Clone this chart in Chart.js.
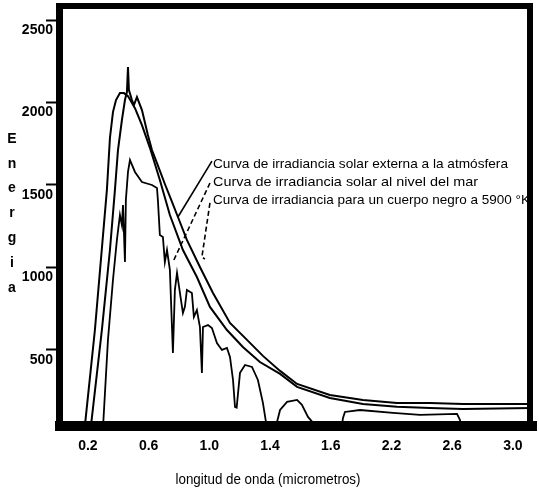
<!DOCTYPE html>
<html>
<head>
<meta charset="utf-8">
<script src="https://cdn.jsdelivr.net/npm/chart.js@4.4.1/dist/chart.umd.min.js"></script>
<style>
html,body{margin:0;padding:0;background:#fff;}
#wrap{width:539px;height:491px;}
</style>
</head>
<body>
<div id="wrap"><canvas id="c" width="539" height="491"></canvas></div>
<script>
// ---- tick labels (printed wavelength labels, evenly spaced on the axis) ----
const xTickLabels = ['0.2','0.6','1.0','1.4','1.6','2.2','2.6','3.0'];
const yTickValues = [500, 1000, 1500, 2000, 2500];

// ---- Curva de irradiancia solar externa a la atmósfera ----
const extWl  = [0.22,0.292,0.345,0.378,0.398,0.424,0.444,0.457,0.464,0.470,0.490,0.503,0.523,0.556,0.595,0.622,0.655,0.707,0.754,0.793,0.852,0.938,1.024,1.136,1.248,1.353,1.433,1.489,1.597,1.918,2.236,2.454,2.671,3.126];
const extVal = [40,621,1106,1470,1712,1894,2015,2064,2215,2076,2015,1985,2033,1954,1803,1712,1633,1506,1397,1306,1167,1003,845,664,561,464,373,294,227,197,179,179,173,173];

// ---- Curva de irradiancia para un cuerpo negro a 5900 K ----
const bbWl  = [0.18,0.246,0.325,0.345,0.365,0.385,0.411,0.437,0.464,0.510,0.556,0.609,0.674,0.740,0.826,0.918,1.004,1.116,1.221,1.333,1.433,1.489,1.597,1.918,2.236,2.454,2.671,3.126];
const bbVal = [40,621,1470,1785,1942,2015,2057,2057,2039,1966,1863,1724,1530,1318,1106,942,761,621,518,427,355,276,209,173,155,148,142,148];

// ---- Curva de irradiancia solar al nivel del mar ----
const slWl  = [0.30,0.332,0.365,0.391,0.411,0.424,0.431,0.444,0.450,0.464,0.477,0.510,0.556,0.622,0.655,0.661,0.674,0.694,0.707,0.721,0.740,0.760,0.773,0.787,0.813,0.826,0.839,0.852,0.885,0.898,0.918,0.938,0.951,0.958,0.991,1.017,1.050,1.083,1.116,1.136,1.156,1.169,1.180,1.202,1.235,1.281,1.320,1.353,1.373,1.386,1.410,1.423,1.433,1.456,1.489,1.505,1.525,1.548,1.560,1.700,1.721,1.740,1.889,2.210,2.388,2.632,2.651,2.671,3.126];
const slVal = [40,561,924,1167,1318,1257,1379,1033,1409,1579,1651,1579,1518,1500,1482,1409,1197,1185,1033,1106,985,482,864,967,803,724,761,864,845,700,742,639,361,639,651,633,542,500,512,458,318,155,150,361,409,397,318,179,64,0,0,64,136,185,197,167,94,45,0,0,88,124,136,118,106,112,76,0,0];

// ---- axis ranges ----
const xRangeWl = [0.016, 3.126];
const yRange = [45, 2573];

// printed label positions -> axis position (labels are equally spaced)
const tickWl = xTickLabels.map(parseFloat);
function toPos(w){
  const t = tickWl, n = t.length;
  if (w <= t[0]) return (w - t[0]) / (t[1] - t[0]);
  if (w >= t[n-1]) return (n-1) + (w - t[n-1]) / (t[n-1] - t[n-2]);
  for (let i = 0; i < n-1; i++) {
    if (w >= t[i] && w <= t[i+1]) return i + (w - t[i]) / (t[i+1] - t[i]);
  }
  return 0;
}
const toPts = (ws, vs) => ws.map((w,i) => ({x: toPos(w), y: vs[i]}));

const FONT = "'Liberation Sans Narrow','Liberation Sans',Arial,sans-serif";

// annotations (anchored in data units)
const notes = [
  {text:'Curva de irradiancia solar externa a la atmósfera', wl:1.024, val:1603, width:295},
  {text:'Curva de irradiancia solar al nivel del mar', wl:1.024, val:1494, width:265},
  {text:'Curva de irradiancia para un cuerpo negro a 5900 °K', wl:1.024, val:1385, width:317}
];
const leaders = [
  {pts:[[1.017,1645],[0.793,1306]], dash:[]},
  {pts:[[1.004,1512],[0.760,1033]], dash:[5,3]},
  {pts:[[1.004,1391],[0.951,1063],[0.971,1051]], dash:[5,3]}
];
const xTitle = 'longitud de onda (micrometros)';
const yTitle = 'Energia';

const decor = {
  id: 'decor',
  afterDatasetsDraw(chart){
    const {ctx, chartArea:a, scales:{x, y}} = chart;
    const px = w => x.getPixelForValue(toPos(w));
    const py = v => y.getPixelForValue(v);
    ctx.save();
    ctx.fillStyle = '#000';
    // thick frame
    ctx.fillRect(a.left-4, a.top-5, 7, a.bottom - a.top + 11);
    ctx.fillRect(a.left-4, a.top-5, a.right - a.left + 5, 6);
    ctx.fillRect(a.right-5, a.top-5, 6, a.bottom - a.top + 11);
    ctx.fillRect(a.left-5, a.bottom-4, a.right - a.left + 10, 10);
    // leaders
    ctx.strokeStyle = '#000';
    ctx.lineWidth = 1.6;
    leaders.forEach(l => {
      ctx.setLineDash(l.dash);
      ctx.beginPath();
      l.pts.forEach(([w,v],i) => i ? ctx.lineTo(px(w), py(v)) : ctx.moveTo(px(w), py(v)));
      ctx.stroke();
    });
    ctx.setLineDash([]);
    // note texts
    ctx.font = '13px ' + FONT;
    ctx.textBaseline = 'alphabetic';
    ctx.textAlign = 'left';
    notes.forEach(n => {
      const m = ctx.measureText(n.text).width;
      ctx.save();
      ctx.translate(px(n.wl), py(n.val));
      ctx.scale(n.width / m, 1);
      ctx.fillText(n.text, 0, 0);
      ctx.restore();
    });
    // x title
    ctx.font = '14px ' + FONT;
    ctx.textBaseline = 'middle';
    const tw = ctx.measureText(xTitle).width;
    ctx.save();
    ctx.translate(268, a.bottom + 55);
    ctx.scale(185 / tw, 1);
    ctx.textAlign = 'center';
    ctx.fillText(xTitle, 0, 0);
    ctx.restore();
    // stacked y title
    ctx.font = 'bold 14px ' + FONT;
    ctx.textAlign = 'center';
    [...yTitle].forEach((ch, i) => ctx.fillText(ch, 12, 139 + i * 24.8));
    ctx.restore();
  }
};

const lineStyle = {borderColor:'#000', borderWidth:2, pointRadius:0, tension:0, fill:false};

new Chart(document.getElementById('c'), {
  type: 'line',
  data: {
    datasets: [
      Object.assign({label:'Curva de irradiancia solar externa a la atmósfera', data: toPts(extWl, extVal)}, lineStyle),
      Object.assign({label:'Curva de irradiancia solar al nivel del mar', data: toPts(slWl, slVal)}, lineStyle, {borderWidth:1.8}),
      Object.assign({label:'Curva de irradiancia para un cuerpo negro a 5900 °K', data: toPts(bbWl, bbVal)}, lineStyle)
    ]
  },
  options: {
    responsive: false,
    devicePixelRatio: 1,
    animation: false,
    layout: {padding: {top: 8, right: 7, left: 0, bottom: 0}},
    plugins: {legend: {display: false}, tooltip: {enabled: false}},
    scales: {
      x: {
        type: 'linear',
        min: toPos(xRangeWl[0]),
        max: toPos(xRangeWl[1]),
        afterBuildTicks: s => { s.ticks = xTickLabels.map((_, i) => ({value: i})); },
        afterFit: s => { s.height = 66; },
        grid: {display: false},
        border: {display: false},
        ticks: {
          autoSkip: false, maxRotation: 0, padding: 5, color: '#000',
          font: {family: FONT, size: 14, weight: 'bold'},
          callback: v => xTickLabels[v] ?? ''
        }
      },
      y: {
        type: 'linear',
        min: yRange[0],
        max: yRange[1],
        afterBuildTicks: s => { s.ticks = yTickValues.map(v => ({value: v})); },
        afterFit: s => { s.width = 60; },
        border: {display: false},
        grid: {display: true, drawOnChartArea: false, drawTicks: true, tickLength: 14, tickWidth: 2, tickColor: '#000'},
        ticks: {
          padding: -7, labelOffset: 10, color: '#000',
          font: {family: FONT, size: 14, weight: 'bold'},
          callback: v => String(v)
        }
      }
    }
  },
  plugins: [decor]
});
</script>
</body>
</html>
